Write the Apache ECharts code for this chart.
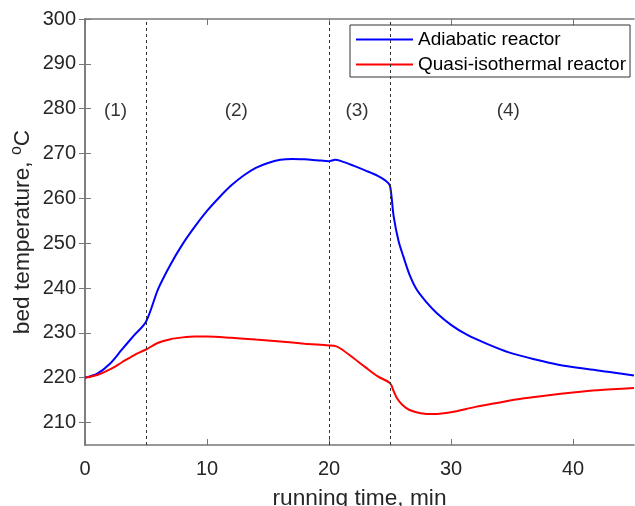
<!DOCTYPE html>
<html>
	<head>
		<meta charset="UTF-8">
		<title>bed temperature</title>
		<script type="text/javascript" src="https://cdn.jsdelivr.net/npm/echarts@6/dist/echarts.min.js"></script>
		<style>
			html, body { margin: 0; padding: 0; background: #fff; }
			#chart1 { width: 635px; height: 506px; }
		</style>
	</head>
	<body>
		<div id="chart1"></div>
		<script type="text/javascript">
			// running time, min
			var adiabaticTime = [0, 1, 2, 3, 4, 5, 6, 7, 8, 9, 10, 11, 12, 13, 14, 15, 16, 17, 18, 19, 20, 20.5, 21, 22, 23, 24, 24.7, 25, 25.3, 25.7, 26.1, 26.6, 27.2, 28, 28.8, 30, 31.3, 33, 34.8, 37, 38.8, 41, 43, 45];
			var adiabaticTemp = [220, 220.9, 223, 226.2, 229.4, 232.5, 239.8, 245.2, 249.8, 253.7, 257.2, 260.2, 262.9, 265.1, 266.8, 267.9, 268.6, 268.8, 268.7, 268.5, 268.3, 268.6, 268.3, 267.3, 266.2, 265, 263.8, 262.8, 256, 250.5, 247, 243, 239.6, 236.8, 234.5, 231.8, 229.6, 227.5, 225.6, 224, 222.9, 222, 221.3, 220.5];
			var isoTime = [0, 1, 2, 3, 4, 5, 6, 7, 8, 9, 10, 12, 14, 16, 18, 20, 20.6, 21, 22, 23, 24, 25, 25.3, 25.6, 26, 26.6, 27.5, 28.6, 30, 32, 34, 36, 38, 40, 42, 45];
			var isoTemp = [220, 220.6, 221.8, 223.4, 225, 226.3, 227.8, 228.6, 229, 229.2, 229.2, 228.9, 228.5, 228.1, 227.6, 227.2, 227, 226.4, 224.4, 222.3, 220.3, 218.8, 217, 215.3, 214, 212.8, 212.1, 211.9, 212.3, 213.5, 214.5, 215.4, 216.1, 216.7, 217.2, 217.7];
			// tick labels
			var xTicks = [0, 10, 20, 30, 40];
			var yTicks = [210, 220, 230, 240, 250, 260, 270, 280, 290, 300];
			// stage boundaries and labels
			var stageBounds = [5, 20, 25];
			var stageNames = ['(1)', '(2)', '(3)', '(4)'];
			var stageX = [2.5, 12.4, 22.3, 34.7];
			var stageY = 279.5;

			function pairs(xs, ys) {
				var out = [];
				for (var i = 0; i < xs.length; i++) out.push([xs[i], ys[i]]);
				return out;
			}

			var font = 'Liberation Sans, Arial, sans-serif';
			var axisCol = '#777';
			var txtCol = '#262626';

			var myChart = echarts.init(document.getElementById('chart1'));
			var option = {
				backgroundColor: '#fff',
				animation: false,
				textStyle: { fontFamily: font },
				grid: { left: 85, right: 1, top: 19, bottom: 61, containLabel: false, outerBoundsMode: 'none' },
				legend: {
					data: ['Adiabatic reactor', 'Quasi-isothermal reactor'],
					orient: 'vertical',
					left: 350,
					top: 25,
					padding: [4, 4, 2, 6],
					itemWidth: 57,
					itemHeight: 2,
					itemGap: 4,
					icon: 'rect',
					borderColor: '#333',
					borderWidth: 1,
					backgroundColor: '#fff',
					textStyle: { fontFamily: font, fontSize: 19, color: '#000', lineHeight: 21 }
				},
				xAxis: [{
					type: 'value', min: 0, max: 45,
					name: 'running time, min', nameLocation: 'middle', nameGap: 42, nameMoveOverlap: false,
					nameTextStyle: { fontSize: 22.7, color: txtCol, fontFamily: font },
					axisLine: { lineStyle: { color: axisCol, width: 1.5 } },
					axisTick: { inside: true, length: 6, lineStyle: { color: axisCol }, customValues: xTicks },
					axisLabel: { fontSize: 20, color: txtCol, margin: 14, fontFamily: font, customValues: xTicks },
					splitLine: { show: false }
				}, {
					type: 'value', min: 0, max: 45, position: 'top',
					axisLine: { lineStyle: { color: axisCol, width: 1.5 } },
					axisTick: { inside: true, length: 6, lineStyle: { color: axisCol }, customValues: xTicks },
					axisLabel: { show: false },
					splitLine: { show: false }
				}],
				yAxis: [{
					type: 'value', min: 205, max: 300,
					name: 'bed temperature, {sup|o}C', nameLocation: 'middle', nameGap: 49, nameMoveOverlap: false,
					nameTextStyle: {
						fontSize: 22.7, color: txtCol, fontFamily: font,
						rich: { sup: { fontSize: 16, color: txtCol, verticalAlign: 'top', padding: [0, 0, 11, 0] } }
					},
					axisLine: { lineStyle: { color: axisCol, width: 1.5 } },
					axisTick: { inside: true, length: 6, lineStyle: { color: axisCol }, customValues: yTicks },
					axisLabel: { fontSize: 20, color: txtCol, margin: 9, fontFamily: font, customValues: yTicks },
					splitLine: { show: false }
				}, {
					type: 'value', min: 205, max: 300, position: 'right',
					axisLine: { lineStyle: { color: axisCol, width: 1.5 } },
					axisTick: { inside: true, length: 6, lineStyle: { color: axisCol }, customValues: yTicks },
					axisLabel: { show: false },
					splitLine: { show: false }
				}],
				series: [{
					name: 'Adiabatic reactor',
					type: 'line',
					data: pairs(adiabaticTime, adiabaticTemp),
					smooth: 0.3,
					showSymbol: false,
					color: '#0000ff',
					lineStyle: { color: '#0000ff', width: 2 },
					z: 3,
					markLine: {
						silent: true,
						symbol: ['none', 'none'],
						label: { show: false },
						lineStyle: { color: '#333', type: [3, 3], width: 1 },
						data: stageBounds.map(function (b) { return { xAxis: b }; })
					}
				}, {
					name: 'Quasi-isothermal reactor',
					type: 'line',
					data: pairs(isoTime, isoTemp),
					smooth: 0.3,
					showSymbol: false,
					color: '#ff0000',
					lineStyle: { color: '#ff0000', width: 2 },
					z: 3
				}, {
					name: 'stages',
					type: 'scatter',
					silent: true,
					symbolSize: 0,
					data: stageNames.map(function (n, i) { return { value: [stageX[i], stageY], name: n }; }),
					label: {
						show: true, position: 'inside', formatter: '{b}',
						fontSize: 19, color: '#000', fontFamily: font
					}
				}]
			};
			myChart.setOption(option);
		</script>
	</body>
</html>
